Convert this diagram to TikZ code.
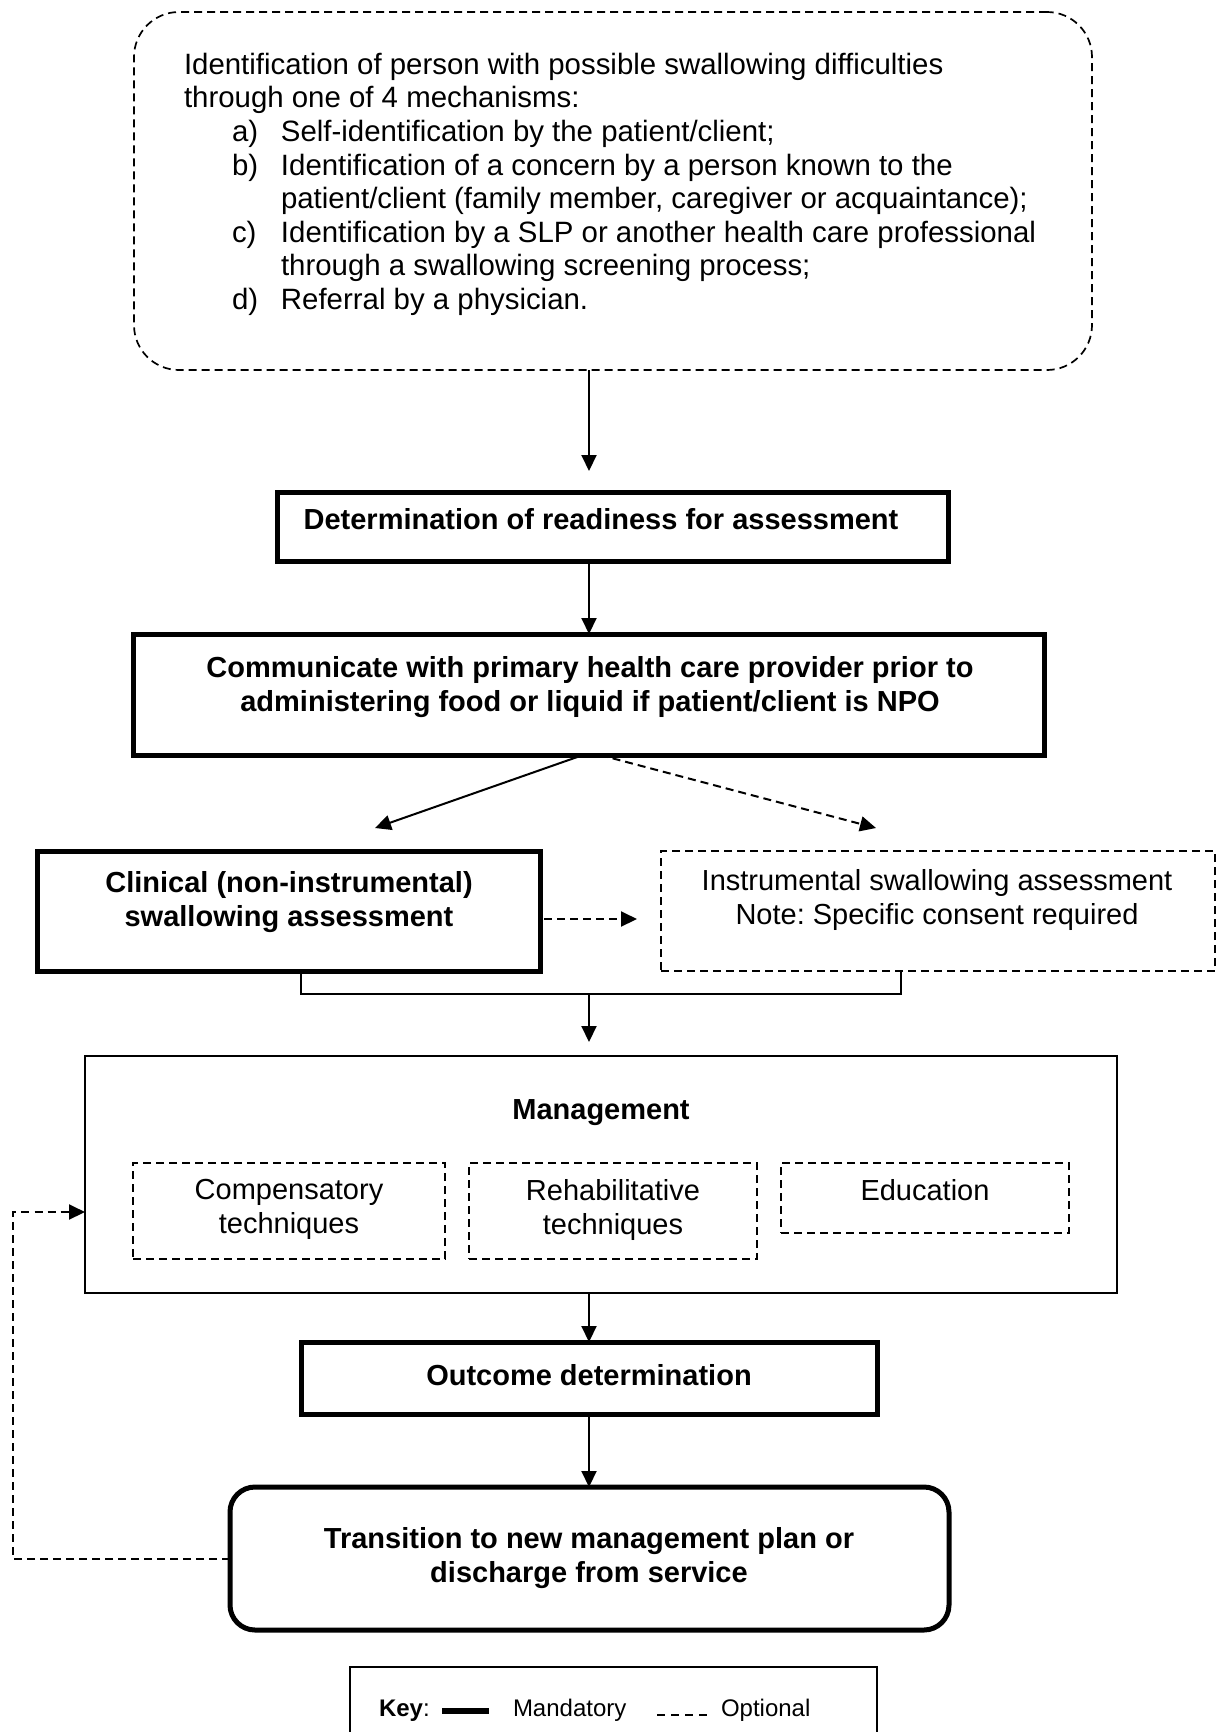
\documentclass[tikz,border=0pt]{standalone}
\usepackage{fontspec}
\setmainfont{Liberation Sans}
\usetikzlibrary{arrows.meta}
\frenchspacing
\begin{document}
\begin{tikzpicture}[x=1pt,y=-1pt,
  every node/.style={inner sep=0pt, outer sep=0pt},
  txt/.style={font=\fontsize{29}{33.6}\selectfont, align=center},
  btxt/.style={font=\fontsize{29}{33.6}\selectfont\bfseries, align=center},
  mandbox/.style={draw, line width=5pt},
  optbox/.style={draw, line width=1.7pt, dash pattern=on 8pt off 5pt},
  plainbox/.style={draw, line width=1.6pt},
  plainline/.style={line width=1.6pt},
  arr/.style={line width=2pt, -{Triangle[length=16pt,width=15pt]}},
  optarr/.style={line width=2pt, dash pattern=on 8pt off 5pt, -{Triangle[length=16pt,width=15pt]}}
]
\useasboundingbox[fill=white] (0,0) rectangle (1218,1732);

% column coordinates
\coordinate (col) at (589,0);
\coordinate (brl) at (301,0);
\coordinate (brr) at (901,0);
\coordinate (join) at (589,994);
\coordinate (clinin) at (375,828);
\coordinate (optin) at (876,828);
\coordinate (solstart) at (583,0);
\coordinate (optstart) at (600,0);
\coordinate (fbx) at (13,1212);

% boxes
\node[optbox, rounded corners=45pt, minimum width=958pt, minimum height=358pt] (ident) at (613,191) {};
\node[anchor=north west, align=left, font=\fontsize{29.4}{33.6}\selectfont] (identtext) at (184,53) {%
Identification of person with possible swallowing difficulties\\
through one of 4 mechanisms:\\
\hspace*{48pt}\makebox[49pt][l]{a)}Self-identification by the patient/client;\\
\hspace*{48pt}\makebox[49pt][l]{b)}Identification of a concern by a person known to the\\
\hspace*{97pt}patient/client (family member, caregiver or acquaintance);\\
\hspace*{48pt}\makebox[49pt][l]{c)}Identification by a SLP or another health care professional\\
\hspace*{97pt}through a swallowing screening process;\\
\hspace*{48pt}\makebox[49pt][l]{d)}Referral by a physician.};

\node[mandbox, minimum width=671pt, minimum height=69pt] (ready) at (612.5,526.5) {};
\node[btxt, anchor=base] (readytext) at (601,529) {Determination of readiness for assessment};

\node[mandbox, minimum width=911pt, minimum height=121pt] (comm) at (589,694.5) {};
\node[btxt, anchor=north] (commtext) at (590,656.5) {Communicate with primary health care provider prior to\\administering food or liquid if patient/client is NPO};

\node[mandbox, minimum width=503pt, minimum height=120pt] (clin) at (288.5,911) {};
\node[btxt, anchor=north] (clintext) at (289,871.5) {Clinical (non-instrumental)\\swallowing assessment};

\node[optbox, minimum width=554pt, minimum height=120pt] (instr) at (938,911) {};
\node[txt, anchor=north] (instrtext) at (937,869.5) {Instrumental swallowing assessment\\Note: Specific consent required};

\node[plainbox, minimum width=1032pt, minimum height=237pt] (mgmt) at (601,1174.5) {};
\node[btxt, anchor=base] (mgmttext) at (601,1119.5) {Management};

\node[optbox, minimum width=312pt, minimum height=96pt] (comp) at (289,1211) {};
\node[txt, anchor=north] (comptext) at (289,1179.5) {Compensatory\\techniques};
\node[optbox, minimum width=288pt, minimum height=96pt] (rehab) at (613,1211) {};
\node[txt, anchor=north] (rehabtext) at (613,1179.5) {Rehabilitative\\techniques};
\node[optbox, minimum width=288pt, minimum height=70pt] (edu) at (925,1198) {};
\node[txt, anchor=base] (edutext) at (925,1200.5) {Education};

\node[mandbox, minimum width=576pt, minimum height=72pt] (outc) at (589,1378) {};
\node[btxt, anchor=base] (outctext) at (589,1385.5) {Outcome determination};

\node[mandbox, rounded corners=25pt, minimum width=719pt, minimum height=143pt] (trans) at (589.5,1558.5) {};
\node[btxt, anchor=north] (transtext) at (589,1527.5) {Transition to new management plan or\\discharge from service};

% key
\node[plainbox, minimum width=527pt, minimum height=93pt] (key) at (613.5,1713.5) {};
\node[anchor=base west, font=\fontsize{24}{28}\selectfont] (keylab) at (379,1716) {\textbf{Key}:};
\draw[line width=6pt] (442,1711) -- (489,1711);
\node[anchor=base west, font=\fontsize{24}{28}\selectfont] (mandlab) at (513,1716) {Mandatory};
\draw[line width=1.5pt, dash pattern=on 8pt off 6pt] (657,1715) -- (707,1715);
\node[anchor=base west, font=\fontsize{24}{28}\selectfont] (optlab) at (721,1716) {Optional};

% connectors
\draw[arr, shorten >=21pt] (ident.south -| col) -- (ready.north -| col);
\draw[arr] (ready.south -| col) -- (comm.north -| col);
\draw[arr] (comm.south -| solstart) -- (clinin);
\draw[optarr] (comm.south -| optstart) -- (optin);
\draw[optarr, shorten <=4pt, shorten >=24pt] ([yshift=-8pt]clin.east) -- ([yshift=-8pt]instr.west);
\draw[plainline] (clin.south -| brl) |- (join) -| (instr.south -| brr);
\draw[arr, shorten >=14pt] (join) -- (mgmt.north -| join);
\draw[arr] (mgmt.south -| col) -- (outc.north -| col);
\draw[arr] (outc.south -| col) -- (trans.north -| col);
\draw[optarr] (trans.west) -| (fbx) -- (mgmt.west |- fbx);
\end{tikzpicture}
\end{document}
